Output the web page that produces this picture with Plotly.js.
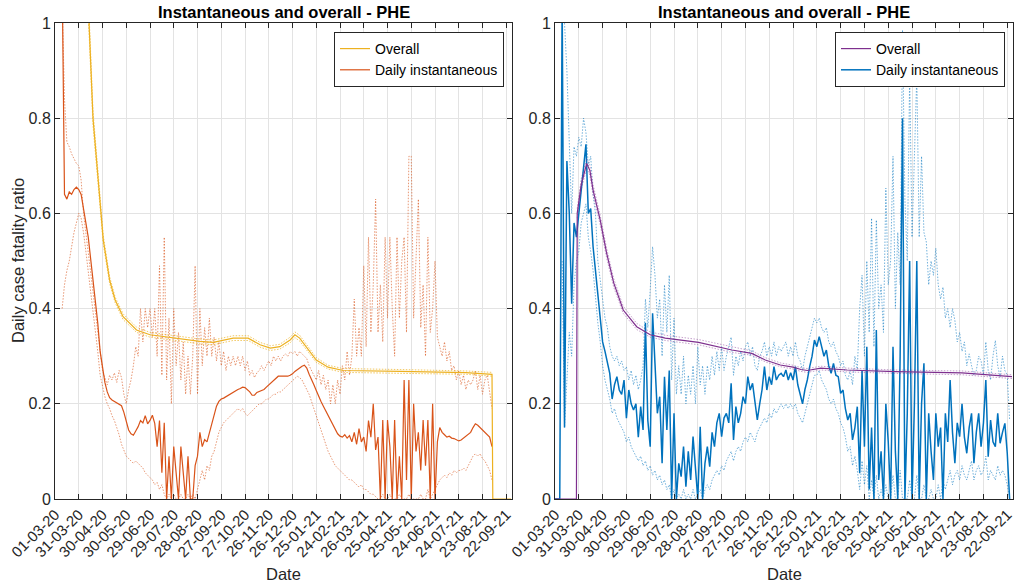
<!DOCTYPE html>
<html><head><meta charset="utf-8">
<script src="https://cdn.plot.ly/plotly-3.0.1.min.js"></script>
<style>html,body{margin:0;padding:0;background:#fff}#chart{width:1016px;height:583px}</style>
</head><body><div id="chart"></div>
<script>
// daily series sampled every 3 days from 2020-03-01
const gridStart = '2020-03-01';
const gridStepDays = 3;

const leftDaily = [null,null,null,
1.1,0.64,0.63,0.645,0.64,0.65,0.655,0.65,0.64,0.61,
0.585,0.55,0.505,0.46,0.42,0.37,0.31,0.275,0.245,0.225,
0.213,0.208,0.205,0.203,0.2,0.196,0.182,0.16,0.145,0.137,
0.134,0.143,0.152,0.165,0.16,0.175,0.158,0.165,0.176,0.159,
0.11,0.165,0.055,0.16,0,0.09,0,0.11,0.055,0,
0.11,0.05,0,0.09,0,0,0.07,0.09,0.14,0.11,
0.125,0.12,0.14,0.16,0.18,0.195,0.205,0.21,0.212,0.215,
0.218,0.222,0.224,0.227,0.23,0.232,0.235,0.234,0.23,0.225,
0.218,0.218,0.224,0.226,0.227,0.23,0.235,0.24,0.245,0.25,
0.255,0.258,0.258,0.258,0.258,0.258,0.26,0.263,0.268,0.272,
0.276,0.279,0.281,0.275,0.262,0.252,0.24,0.228,0.215,0.205,
0.195,0.185,0.175,0.165,0.155,0.145,0.137,0.132,0.13,0.135,
0.128,0.133,0.12,0.14,0.115,0.148,0.12,0.13,0.1,0.165,
0.13,0.2,0.103,0.13,0,0.166,0,0.166,0.11,0,
0.166,0,0.09,0,0.25,0.04,0.25,0,0.2,0.1,
0.14,0.06,0.166,0.07,0.166,0,0.2,0,0.12,0.15,
0.14,0.135,0.13,0.132,0.128,0.127,0.125,0.122,0.124,0.128,
0.13,0.135,0.14,0.15,0.158,0.155,0.15,0.145,0.14,0.135,
0.13,0.11,null,null,null,null,null,null,null,null];

const leftUpper = [null,null,null,
1.05,0.84,0.75,0.74,0.725,0.715,0.705,0.7,0.67,0.6,
0.56,0.52,0.48,0.44,0.4,0.35,0.31,0.27,0.255,0.24,
0.26,0.25,0.265,0.245,0.27,0.255,0.22,0.2,0.23,0.25,
0.28,0.32,0.3,0.4,0.33,0.4,0.36,0.4,0.34,0.4,
0.3,0.49,0.26,0.55,0.25,0.38,0.2,0.4,0.28,0.35,
0.25,0.33,0.22,0.3,0.22,0.3,0.49,0.22,0.4,0.28,
0.36,0.3,0.38,0.3,0.34,0.29,0.33,0.28,0.31,0.27,
0.3,0.28,0.3,0.28,0.3,0.28,0.3,0.27,0.29,0.26,
0.27,0.255,0.265,0.27,0.28,0.27,0.28,0.29,0.28,0.3,
0.29,0.3,0.29,0.3,0.305,0.3,0.31,0.305,0.31,0.3,
0.31,0.305,0.3,0.295,0.28,0.27,0.26,0.25,0.27,0.24,
0.26,0.23,0.25,0.2,0.24,0.2,0.25,0.22,0.28,0.25,
0.31,0.26,0.3,0.42,0.3,0.36,0.3,0.49,0.32,0.55,
0.35,0.45,0.63,0.35,0.45,0.33,0.55,0.38,0.55,0.4,
0.3,0.55,0.38,0.5,0.55,0.35,0.72,0.72,0.38,0.5,
0.63,0.36,0.45,0.3,0.55,0.35,0.4,0.5,0.34,0.32,
0.3,0.33,0.29,0.31,0.27,0.28,0.25,0.27,0.24,0.26,
0.23,0.25,0.24,0.25,0.27,0.23,0.26,0.22,0.25,0.26,
0.22,0.19,null,null,null,null,null,null,null,null];

const leftLower = [null,null,null,
0.4,0.45,0.48,0.5,0.53,0.56,0.58,0.6,0.59,0.56,
0.52,0.48,0.44,0.4,0.35,0.31,0.26,0.235,0.215,0.2,
0.19,0.175,0.165,0.15,0.135,0.115,0.1,0.09,0.085,0.08,
0.075,0.08,0.075,0.07,0.065,0.055,0.05,0.045,0.04,0.03,
0.035,0.02,0.03,0.01,0,0.01,0,0.01,0,0,
0.01,0,0,0.01,0,0.01,0,0.02,0.04,0.06,
0.04,0.07,0.06,0.09,0.1,0.12,0.14,0.15,0.16,0.165,
0.17,0.175,0.18,0.185,0.19,0.185,0.19,0.18,0.175,0.18,
0.185,0.19,0.195,0.2,0.2,0.205,0.21,0.21,0.215,0.22,
0.22,0.225,0.225,0.23,0.235,0.24,0.245,0.25,0.255,0.258,
0.255,0.25,0.24,0.23,0.22,0.205,0.19,0.175,0.16,0.145,
0.13,0.115,0.1,0.09,0.08,0.07,0.065,0.06,0.055,0.05,
0.045,0.04,0.04,0.035,0.03,0.025,0.03,0.02,0.02,0.015,
0.01,0.01,0.005,0,0,0.01,0,0,0.01,0,
0,0,0.01,0,0,0,0.01,0,0,0,
0,0.01,0,0,0.02,0,0.01,0.02,0.03,0.04,
0.045,0.05,0.045,0.055,0.05,0.06,0.055,0.06,0.06,0.065,
0.06,0.07,0.08,0.09,0.095,0.09,0.095,0.085,0.08,0.07,
0.06,0.04,null,null,null,null,null,null,null,null];

const rightDaily = [0,0,0,1.05,0.15,0.71,0.6,0.41,0.58,0.55,
0.6,0.66,0.71,0.745,0.6,0.61,0.53,0.48,0.43,0.39,
0.33,0.31,0.29,0.264,0.21,0.24,0.257,0.229,0.22,0.25,
0.17,0.229,0.2,0.187,0.2,0.13,0.194,0.145,0.37,0.165,
0.11,0.39,0.285,0.18,0.215,0.075,0.257,0.145,0.27,0,
0.18,0,0.075,0.047,0.11,0.026,0.1,0.04,0.131,0.06,
0,0.152,0,0.075,0.11,0.068,0.14,0.11,0.16,0.18,
0.131,0.17,0.18,0.16,0.243,0.124,0.194,0.16,0.18,0.215,
0.2,0.257,0.229,0.243,0.2,0.166,0.2,0.23,0.278,0.229,
0.257,0.24,0.278,0.25,0.26,0.264,0.257,0.271,0.25,0.265,
0.25,0.278,0.24,0.222,0.2,0.23,0.25,0.278,0.3,0.334,
0.32,0.341,0.32,0.3,0.313,0.28,0.264,0.285,0.26,0.257,
0.222,0.229,0.19,0.166,0.18,0.124,0.15,0.194,0.054,0.27,
0.11,0.32,0.02,0.15,0,0.355,0.04,0.1,0,0.2,
0.12,0,0.32,0.1,0,0.3,0.8,0,0.18,0.5,
0,0.2,0.5,0,0.2,0.285,0,0.18,0.1,0.04,
0.18,0.11,0.15,0,0.18,0.12,0.25,0.14,0.075,0.16,
0.131,0.2,0.13,0.096,0.15,0.18,0.075,0.14,0.18,0.11,
0.16,0.25,0.089,0.166,0.12,0.11,0.18,0.117,0.14,0.159,
0.096,0,null];

const rightUpper = [null,null,null,
1.05,1.0,0.9,0.77,0.6,0.74,0.72,0.76,0.74,0.8,
0.77,0.7,0.72,0.64,0.6,0.5,0.46,0.42,0.38,0.36,
0.32,0.3,0.29,0.3,0.28,0.29,0.27,0.278,0.25,0.27,
0.24,0.26,0.23,0.25,0.28,0.42,0.36,0.44,0.53,0.47,
0.38,0.42,0.3,0.45,0.35,0.47,0.25,0.38,0.22,0.28,
0.22,0.3,0.2,0.26,0.22,0.28,0.2,0.32,0.24,0.28,
0.22,0.28,0.25,0.3,0.26,0.31,0.27,0.32,0.27,0.3,
0.32,0.34,0.26,0.3,0.28,0.31,0.29,0.32,0.33,0.3,
0.32,0.28,0.27,0.3,0.31,0.33,0.3,0.32,0.3,0.33,
0.3,0.32,0.31,0.32,0.33,0.3,0.32,0.3,0.33,0.3,
0.29,0.27,0.3,0.32,0.34,0.36,0.38,0.37,0.38,0.36,
0.35,0.36,0.33,0.32,0.33,0.31,0.3,0.28,0.29,0.26,
0.25,0.27,0.24,0.3,0.27,0.4,0.47,0.3,0.5,0.35,
0.59,0.32,0.586,0.4,0.45,0.35,0.653,0.45,0.5,0.72,
0.4,0.56,0.45,0.985,0.63,0.5,0.89,0.55,0.72,0.89,
0.55,0.72,0.56,0.54,0.45,0.5,0.47,0.527,0.45,0.42,
0.445,0.38,0.4,0.36,0.4,0.375,0.33,0.35,0.31,0.33,
0.28,0.305,0.28,0.26,0.27,0.3,0.29,0.26,0.33,0.27,
0.25,0.3,0.333,0.28,0.256,0.3,0.27,0.26,0.165,null];

const rightLower = [null,null,null,
0.5,0.15,0.25,0.35,0.3,0.45,0.5,0.52,0.58,0.6,
0.62,0.55,0.52,0.48,0.42,0.37,0.33,0.28,0.25,0.23,
0.21,0.18,0.19,0.17,0.16,0.15,0.14,0.12,0.13,0.11,
0.1,0.09,0.08,0.09,0.07,0.08,0.06,0.07,0.05,0.06,
0.04,0.05,0.03,0.04,0.02,0.03,0,0.02,0,0.01,
0,0.02,0,0.01,0,0.02,0,0.01,0.02,0,
0.02,0.03,0.02,0.04,0.05,0.06,0.05,0.07,0.06,0.08,
0.09,0.1,0.08,0.1,0.11,0.1,0.12,0.13,0.12,0.14,
0.13,0.12,0.14,0.15,0.16,0.17,0.16,0.18,0.17,0.19,
0.18,0.19,0.2,0.19,0.2,0.19,0.2,0.19,0.2,0.18,
0.17,0.16,0.18,0.2,0.22,0.24,0.26,0.26,0.27,0.25,
0.24,0.23,0.21,0.2,0.21,0.19,0.18,0.16,0.15,0.13,
0.1,0.11,0.07,0.09,0.06,0.02,0.08,0.03,0.07,0,
0.04,0,0.05,0,0.02,0,0.03,0,0,0.05,
0,0,0.06,0,0,0,0.04,0,0,0.05,
0,0,0.03,0,0,0.02,0,0,0.03,0,
0.04,0.02,0.04,0.06,0.03,0.05,0.06,0.04,0.07,0.05,
0.04,0.06,0.08,0.04,0.06,0.07,0.05,0.06,0.09,0.04,
0.06,0.05,0.04,0.07,0.05,0.06,0.05,0.03,0,null];

// overall ratios
const leftOverallDates = ['2020-04-10','2020-04-13','2020-04-18','2020-04-25','2020-05-01','2020-05-09','2020-05-16','2020-05-26','2020-06-12','2020-06-29','2020-07-28','2020-08-31','2020-09-17','2020-10-12','2020-10-31','2020-11-15','2020-11-28','2020-12-10','2020-12-23','2020-12-29','2021-01-04','2021-01-15','2021-01-25','2021-02-09','2021-02-28','2021-05-11','2021-08-02','2021-09-04','2021-09-05','2021-09-28'];
const leftOverall = [1.08,1.0,0.8,0.656,0.544,0.46,0.418,0.383,0.355,0.345,0.338,0.331,0.329,0.338,0.338,0.324,0.317,0.32,0.334,0.345,0.338,0.313,0.292,0.277,0.27,0.268,0.2655,0.262,0,0];
const leftOverallUpper = [1.1,1.02,0.815,0.667,0.553,0.467,0.424,0.389,0.361,0.35,0.343,0.336,0.334,0.343,0.343,0.329,0.322,0.325,0.34,0.351,0.344,0.318,0.297,0.281,0.274,0.272,0.269,0.266,null,null];
const leftOverallLower = [1.06,0.98,0.785,0.645,0.535,0.453,0.412,0.377,0.35,0.34,0.333,0.326,0.324,0.333,0.333,0.319,0.312,0.315,0.328,0.339,0.332,0.308,0.287,0.273,0.266,0.264,0.262,0.258,null,null];

const rightOverallDates = ['2020-03-01','2020-03-28','2020-03-29','2020-04-03','2020-04-10','2020-04-14','2020-04-18','2020-04-27','2020-05-05','2020-05-14','2020-05-26','2020-06-12','2020-06-29','2020-07-18','2020-08-29','2020-10-10','2020-11-04','2020-11-21','2020-12-10','2020-12-26','2021-01-05','2021-01-13','2021-01-30','2021-03-04','2021-05-04','2021-07-27','2021-09-28'];
const rightOverall = [0,0,0.6,0.66,0.705,0.69,0.649,0.586,0.517,0.454,0.397,0.362,0.345,0.338,0.329,0.313,0.306,0.292,0.2815,0.277,0.272,0.27,0.275,0.271,0.2675,0.265,0.257];
const rightOverallUpper = [null,null,0.61,0.672,0.715,0.7,0.66,0.596,0.527,0.463,0.405,0.369,0.351,0.344,0.335,0.319,0.311,0.297,0.286,0.281,0.276,0.274,0.279,0.275,0.271,0.269,0.261];
const rightOverallLower = [null,null,0.59,0.65,0.695,0.68,0.638,0.576,0.507,0.445,0.39,0.356,0.34,0.333,0.324,0.308,0.302,0.288,0.278,0.273,0.268,0.266,0.271,0.267,0.264,0.261,0.253];

const tickDates = ['2020-03-01','2020-03-31','2020-04-30','2020-05-30','2020-06-29','2020-07-29','2020-08-28','2020-09-27','2020-10-27','2020-11-26','2020-12-26','2021-01-25','2021-02-24','2021-03-26','2021-04-25','2021-05-25','2021-06-24','2021-07-24','2021-08-23','2021-09-22'];
const titleText = 'Instantaneous and overall - PHE';
const legendLabels = ['Overall','Daily instantaneous'];

function gridDates(n){
  const t0 = Date.parse(gridStart + 'T00:00:00Z');
  const out = [];
  for (let i = 0; i < n; i++) out.push(new Date(t0 + i*gridStepDays*86400000).toISOString().slice(0,10));
  return out;
}
const gd = gridDates(leftDaily.length);

const FONT = 'Liberation Sans, Arial, Helvetica, sans-serif';
const AX = '#262626';
const DOT = '1.5px,1.5px';

function dotted(x, y, color, xa, ya){
  return {x:x, y:y, type:'scatter', mode:'lines', xaxis:xa, yaxis:ya, showlegend:false, hoverinfo:'skip',
    line:{color:color, width:1, dash:DOT}};
}
const traces = [
  dotted(gd, leftUpper, 'rgba(217,83,25,0.6)', 'x', 'y'),
  dotted(gd, leftLower, 'rgba(217,83,25,0.6)', 'x', 'y'),
  {x:gd, y:leftDaily, type:'scatter', mode:'lines', xaxis:'x', yaxis:'y', name:legendLabels[1], legend:'legend', legendrank:2,
    line:{color:'#D95319', width:1.2}},
  dotted(leftOverallDates, leftOverallUpper, 'rgba(237,177,32,0.7)', 'x', 'y'),
  dotted(leftOverallDates, leftOverallLower, 'rgba(237,177,32,0.7)', 'x', 'y'),
  {x:leftOverallDates, y:leftOverall, type:'scatter', mode:'lines', xaxis:'x', yaxis:'y', name:legendLabels[0], legend:'legend', legendrank:1,
    line:{color:'#EDB120', width:1.2}},

  dotted(gd, rightUpper, 'rgba(0,114,189,0.55)', 'x2', 'y2'),
  dotted(gd, rightLower, 'rgba(0,114,189,0.55)', 'x2', 'y2'),
  {x:gd, y:rightDaily, type:'scatter', mode:'lines', xaxis:'x2', yaxis:'y2', name:legendLabels[1], legend:'legend2', legendrank:2,
    line:{color:'#0072BD', width:1.5}},
  dotted(rightOverallDates, rightOverallUpper, 'rgba(126,47,142,0.45)', 'x2', 'y2'),
  dotted(rightOverallDates, rightOverallLower, 'rgba(126,47,142,0.45)', 'x2', 'y2'),
  {x:rightOverallDates, y:rightOverall, type:'scatter', mode:'lines', xaxis:'x2', yaxis:'y2', name:legendLabels[0], legend:'legend2', legendrank:1,
    line:{color:'#7E2F8E', width:1.2}}
];

const W = 1016, H = 583;
const yDom = [(H-499)/H, (H-23)/H];
function xax(dom){
  return {domain:dom, type:'date', range:['2020-03-01','2021-09-29 06:00'], tickvals:tickDates, tickformat:'%d-%m-%y',
    tickangle:-45, ticks:'inside', ticklen:5, tickcolor:AX, mirror:'allticks', showline:true, linecolor:AX, linewidth:1,
    showgrid:true, gridcolor:'#e3e3e3', gridwidth:1, zeroline:false,
    tickfont:{family:FONT, size:15, color:AX}, fixedrange:true};
}
function yax(anchor){
  return {domain:yDom, anchor:anchor, range:[0,1], dtick:0.2, tick0:0, ticks:'inside', ticklen:5, tickcolor:AX,
    mirror:'allticks', showline:true, linecolor:AX, linewidth:1, showgrid:true, gridcolor:'#e3e3e3', gridwidth:1,
    zeroline:false, tickfont:{family:FONT, size:16, color:AX}, fixedrange:true};
}
function leg(xr){
  return {x:xr/W, xanchor:'right', y:(H-32)/H, yanchor:'top', bgcolor:'#ffffff', bordercolor:AX, borderwidth:1,
    font:{family:FONT, size:14, color:'#000'}, itemwidth:30, tracegroupgap:0, traceorder:'normal'};
}
const xa1 = xax([55/W, 512/W]); xa1.anchor = 'y';
const xa2 = xax([555/W, 1013/W]); xa2.anchor = 'y2';

const layout = {
  width:W, height:H, margin:{l:0,r:0,t:0,b:0}, paper_bgcolor:'#fff', plot_bgcolor:'#fff',
  xaxis:xa1, yaxis:yax('x'), xaxis2:xa2, yaxis2:yax('x2'),
  legend:leg(504), legend2:leg(1005),
  annotations:[
    {text:'<b>'+titleText+'</b>', xref:'paper', yref:'paper', x:283.5/W, y:(H-12)/H, xanchor:'center', yanchor:'middle', showarrow:false, font:{family:FONT, size:16.5, color:'#000'}},
    {text:'<b>'+titleText+'</b>', xref:'paper', yref:'paper', x:784/W, y:(H-12)/H, xanchor:'center', yanchor:'middle', showarrow:false, font:{family:FONT, size:16.5, color:'#000'}},
    {text:'Date', xref:'paper', yref:'paper', x:283.5/W, y:(H-574)/H, xanchor:'center', yanchor:'middle', showarrow:false, font:{family:FONT, size:16.5, color:AX}},
    {text:'Date', xref:'paper', yref:'paper', x:784/W, y:(H-574)/H, xanchor:'center', yanchor:'middle', showarrow:false, font:{family:FONT, size:16.5, color:AX}},
    {text:'Daily case fatality ratio', xref:'paper', yref:'paper', x:18/W, y:(H-261)/H, xanchor:'center', yanchor:'middle', textangle:-90, showarrow:false, font:{family:FONT, size:16.5, color:AX}}
  ]
};
Plotly.newPlot('chart', traces, layout, {staticPlot:true, displayModeBar:false});
</script></body></html>
